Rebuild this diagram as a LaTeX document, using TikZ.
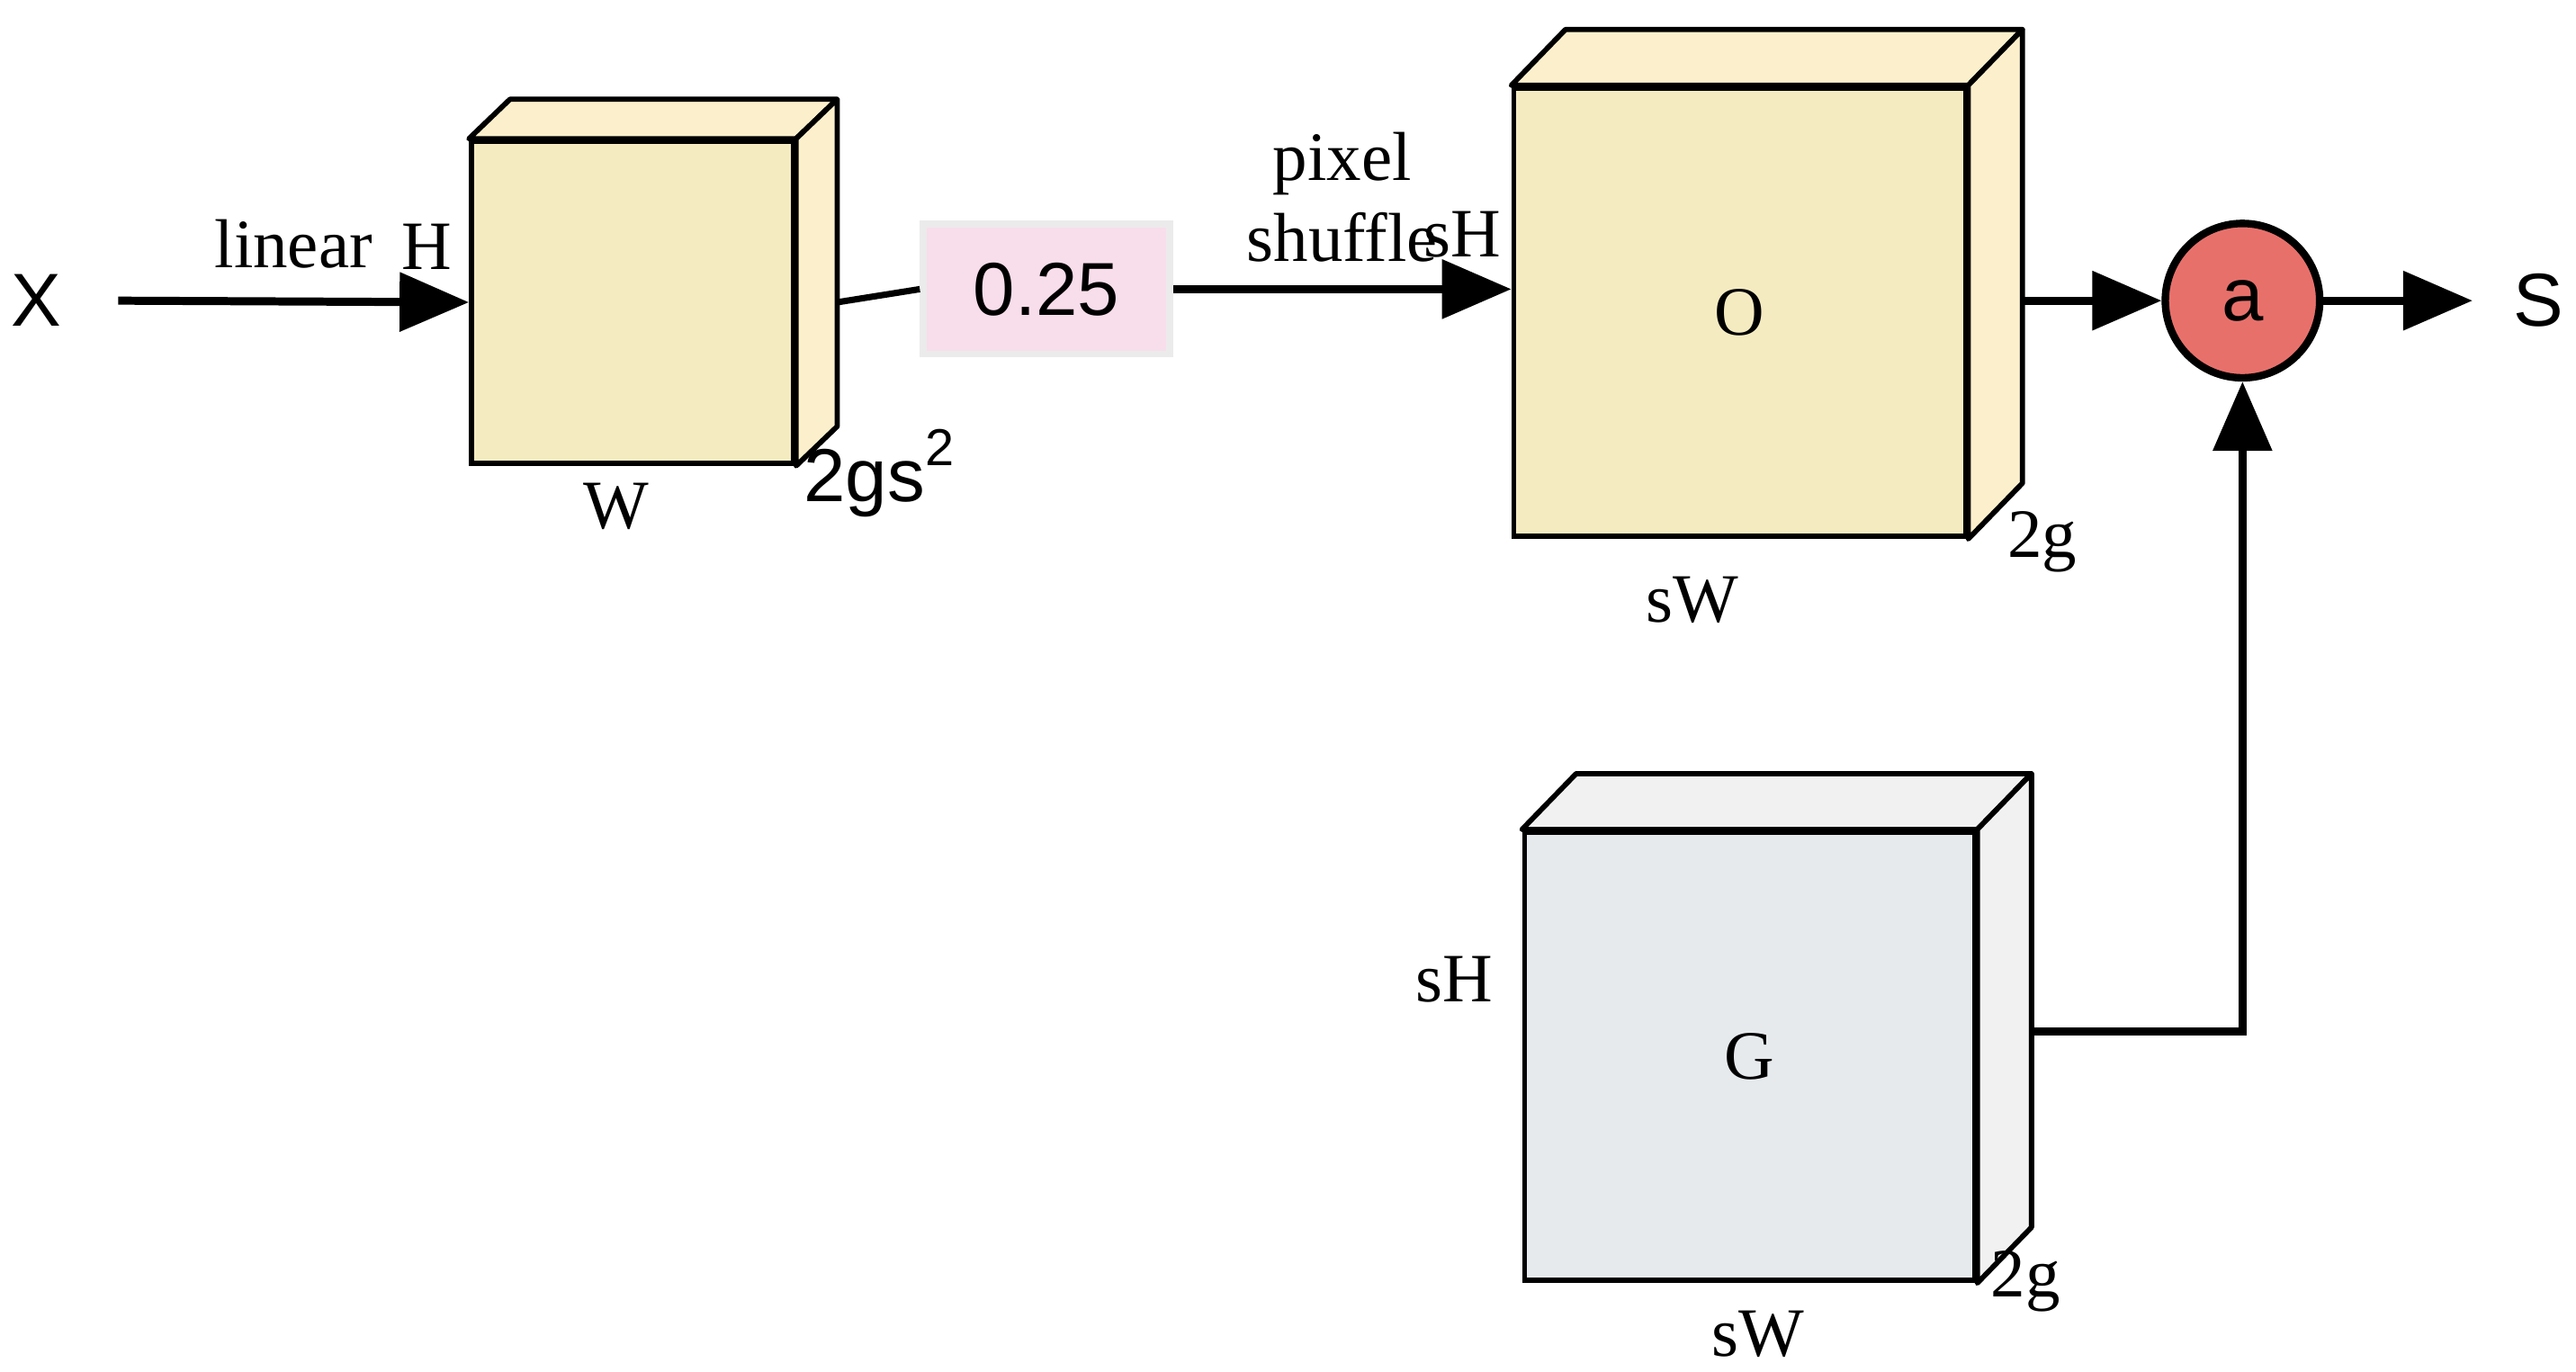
\documentclass[tikz,border=0pt]{standalone}
\usepackage{fontspec}
\setmainfont{Liberation Serif}
\newfontfamily\sansf{Liberation Sans}
\usetikzlibrary{arrows.meta,calc,positioning}
\definecolor{boxyellow}{HTML}{F5EBC1}
\definecolor{topyellow}{HTML}{FCF0CC}
\definecolor{boxgray}{HTML}{E6EAED}
\definecolor{topgray}{HTML}{F1F1F1}
\definecolor{boxpink}{HTML}{F8DDEA}
\definecolor{dotred}{HTML}{E8706B}
% cube faces behind a front node: name, dx, dy, colour
\newcommand{\cubefaces}[4]{%
  \draw[face,fill=#4] (#1.north west) -- ++(#2,#3) -- ($(#1.north east)+(#2,#3)$) -- (#1.north east) -- cycle;
  \draw[face,fill=#4] (#1.north east) -- ($(#1.north east)+(#2,#3)$) -- ($(#1.south east)+(#2,#3)$) -- (#1.south east) -- cycle;
}
\tikzset{
  front/.style={draw,line width=0.9pt,inner sep=0pt,font=\fontsize{12}{14}\selectfont},
  face/.style={line width=0.9pt,line join=round},
  lbl/.style={font=\fontsize{12}{14}\selectfont,inner sep=1pt},
  slbl/.style={font=\sansf\fontsize{13}{15}\selectfont,inner sep=1pt},
  flow/.style={line width=1.4pt,-{Triangle[length=12pt,width=10pt]}},
  link/.style={line width=1.1pt}
}
\begin{document}
\begin{tikzpicture}[x=0.1mm,y=-0.1mm]
\useasboundingbox (0,0) rectangle (1568,835);
% inputs and outputs
\node[slbl] (x) at (22,183) {X};
\node[slbl] (s) at (1545,183) {S};
% first block
\node[front,fill=boxyellow,minimum width=1.96cm,minimum height=1.96cm] (hw) at (385,184) {};
\cubefaces{hw}{25}{-24}{topyellow}
\node[lbl] at (375,308) {W};
\node[lbl] at (260,150) {H};
\node[slbl] at (535,288) {2gs\raisebox{0.9ex}{\fontsize{9}{10}\selectfont 2}};
\draw[flow] (72,183) -- (hw.west) node[lbl,midway,above=4pt] {linear};
% scale factor
\node[draw=black!8,line width=1.2pt,fill=boxpink,minimum width=1.5cm,minimum height=0.79cm,slbl] (k) at (637,176) {0.25};
\draw[link] ($(hw.east)+(25,0)$) -- (k.west);
% output block O
\node[front,fill=boxyellow,minimum width=2.75cm,minimum height=2.73cm] (o) at (1059,190) {O};
\cubefaces{o}{33}{-34}{topyellow}
\draw[flow] (k.east) -- (o.west |- k.east) node[lbl,midway,above=3pt,align=center] {pixel\\shuffle};
\node[lbl] at (890,143) {sH};
\node[lbl] at (1030,365) {sW};
\node[lbl] at (1243,330) {2g};
% combination
\node[circle,draw,line width=1.3pt,fill=dotred,minimum size=0.94cm,inner sep=0pt,slbl] (a) at (1365,183) {a};
\draw[flow] ($(o.east |- a.west)+(33,0)$) -- (a.west);
\draw[flow] (a.east) -- (1505,183);
% guide block G
\node[front,fill=boxgray,minimum width=2.74cm,minimum height=2.73cm] (g) at (1065,643) {G};
\cubefaces{g}{33}{-34}{topgray}
\node[lbl] at (885,596) {sH};
\node[lbl] at (1070,812) {sW};
\node[lbl] at (1233,780) {2g};
\draw[flow] (1236,628) -| (a.south);
\end{tikzpicture}
\end{document}
